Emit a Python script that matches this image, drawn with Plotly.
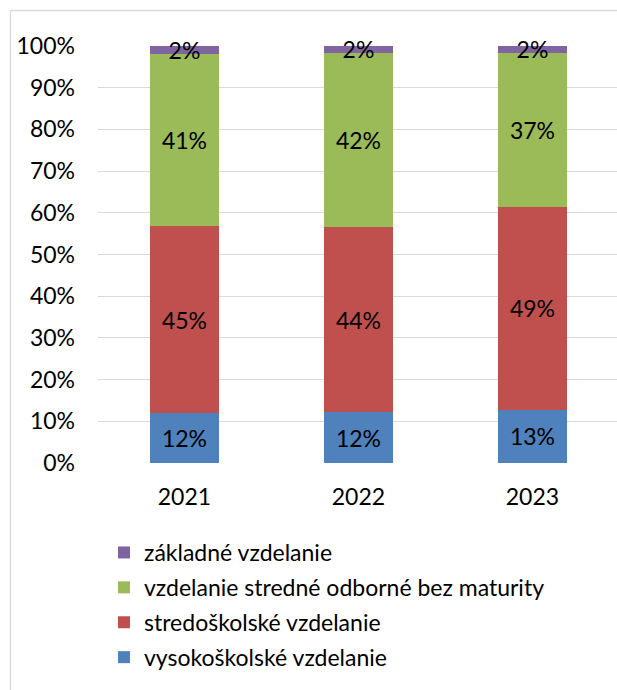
import plotly.graph_objects as go

years = ["2021", "2022", "2023"]
series_names = [
    "vysokoškolské vzdelanie",
    "stredoškolské vzdelanie",
    "vzdelanie stredné odborné bez maturity",
    "základné vzdelanie",
]
vysokoskolske = [11.9, 12.2, 12.8]
stredoskolske = [44.9, 44.3, 48.6]
stredne_odborne = [41.3, 41.9, 37.0]
zakladne = [1.9, 1.6, 1.6]
colors = ["#4F81BD", "#C0504D", "#9BBB59", "#8064A2"]
legend_ranks = [4, 3, 2, 1]
y_ticks = [0, 10, 20, 30, 40, 50, 60, 70, 80, 90, 100]
y_tick_labels = [f"{v}%" for v in y_ticks]

FONT = "Lato"
FS = 23
fig = go.Figure()
for name, vals, col, rk in zip(series_names, [vysokoskolske, stredoskolske, stredne_odborne, zakladne], colors, legend_ranks):
    fig.add_trace(go.Bar(
        x=years, y=vals, name=name, marker=dict(color=col, line=dict(width=0)),
        texttemplate="%{y:.0f}%", textposition="inside", insidetextanchor="middle",
        constraintext="none", textangle=0, cliponaxis=False,
        textfont=dict(family=FONT, size=FS, color="black"),
        legendgroup=name, legendrank=rk,
    ))

W, H = 617, 690
L, R, T = 98, 0, 46
B = H - 463
pw = W - L - R
ph = H - T - B

def px_x(p):
    return (p - L) / pw

def px_y(p):
    return (H - B - p) / ph

border = dict(color="#d9d9d9", width=1.3)
fig.update_layout(
    width=W, height=H,
    margin=dict(l=L, r=R, t=T, b=B, pad=0),
    barmode="stack", bargap=0.6,
    plot_bgcolor="white", paper_bgcolor="white",
    font=dict(family=FONT, size=FS, color="black"),
    showlegend=True,
    legend=dict(
        x=px_x(104), y=px_y(531), xanchor="left", yanchor="top",
        traceorder="grouped", tracegroupgap=2,
        font=dict(family=FONT, size=FS, color="black"),
        bgcolor="rgba(0,0,0,0)",
    ),
    xaxis=dict(
        range=[-0.497, 2.486], showgrid=False, zeroline=False, showline=False,
        ticks="", ticklabelstandoff=18, tickfont=dict(family=FONT, size=FS),
        fixedrange=True,
    ),
    yaxis=dict(
        range=[0, 100], tickvals=y_ticks, ticktext=y_tick_labels,
        showgrid=True, gridcolor="#d9d9d9", gridwidth=1.3,
        zeroline=False, showline=False, ticks="", ticklabelstandoff=22,
        tickfont=dict(family=FONT, size=FS), fixedrange=True,
    ),
    shapes=[
        dict(type="line", xref="paper", yref="paper",
             x0=px_x(10.5), x1=px_x(10.5), y0=px_y(700), y1=px_y(10.5), line=border, layer="below"),
        dict(type="line", xref="paper", yref="paper",
             x0=px_x(10.5), x1=px_x(630), y0=px_y(10.5), y1=px_y(10.5), line=border, layer="below"),
    ],
)

fig.write_html(
    "out.html",
    config={"displayModeBar": False},
    post_script=(
        "document.body.style.margin='0';document.body.style.overflow='hidden';"
        "document.documentElement.style.overflow='hidden';"
    ),
)
